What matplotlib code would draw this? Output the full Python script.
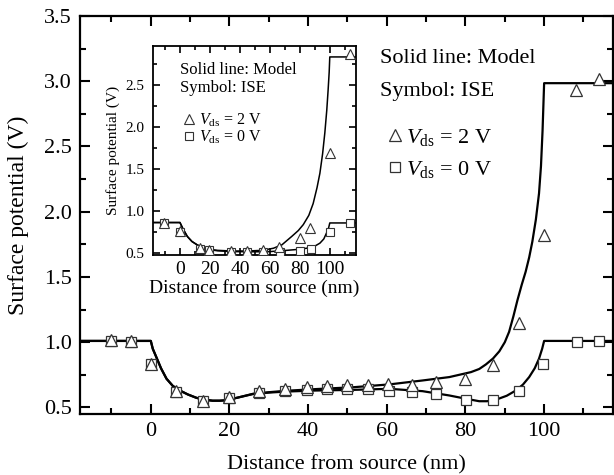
import matplotlib
matplotlib.use('Agg')
import matplotlib.pyplot as plt
from matplotlib.ticker import MultipleLocator, FormatStrFormatter
from matplotlib.lines import Line2D

plt.rcParams['font.family'] = ['Liberation Serif', 'DejaVu Serif']
plt.rcParams['mathtext.fontset'] = 'custom'
plt.rcParams['mathtext.rm'] = 'Liberation Serif'
plt.rcParams['mathtext.it'] = 'Liberation Serif:italic'

# ---- main panel: surface potential along the channel ----
# ISE simulation points
x_ise_2v = [-10, -5, 0, 6.5, 13.3, 20, 27.5, 34, 39.7, 44.8, 50, 55.2, 60.4, 66.4, 72.5, 80, 87, 93.7, 100, 108, 114]
v_ise_2v = [1.015, 1.01, 0.835, 0.625, 0.552, 0.58, 0.625, 0.643, 0.655, 0.661, 0.669, 0.674, 0.677, 0.672, 0.694, 0.715, 0.828, 1.147, 1.82, 2.93, 3.02]
x_ise_0v = [-10, -5, 0, 6.5, 13.3, 20, 27.5, 34, 39.7, 44.8, 50, 55.2, 60.6, 66.4, 72.5, 80.1, 87.1, 93.7, 99.8, 108.3, 114]
v_ise_0v = [1.01, 1.005, 0.83, 0.62, 0.548, 0.57, 0.61, 0.625, 0.635, 0.64, 0.64, 0.64, 0.63, 0.617, 0.60, 0.559, 0.554, 0.625, 0.835, 1.0, 1.007]

# model curves
x_mod_2v = [-18, 0, 0.5, 1.4, 2.6, 4, 5.6, 7.4, 9.4, 11.6, 13.6, 15.7, 17.5, 19, 22, 26, 30, 34.4, 42, 51.4, 60.7, 69.1, 75.9,
            81.4, 83.5, 85.2, 87, 88.6, 90, 91.1, 92.2, 93.2, 94.3, 95.3, 96.2, 97, 97.9, 98.7, 99.2, 99.6, 100, 117.5]
v_mod_2v = [1.01, 1.01, 0.95, 0.886, 0.8, 0.72, 0.665, 0.63, 0.6, 0.574, 0.56, 0.552, 0.552, 0.555, 0.575, 0.605, 0.617, 0.628, 0.641, 0.655, 0.677, 0.707, 0.733,
            0.771, 0.795, 0.83, 0.875, 0.93, 1.0, 1.08, 1.2, 1.32, 1.44, 1.54, 1.65, 1.77, 1.94, 2.14, 2.35, 2.62, 2.985, 2.985]
x_mod_0v = [-18, 0, 0.5, 1.4, 2.6, 4, 5.6, 7.4, 9.4, 11.6, 13.6, 15.7, 17.5, 19, 22, 26, 30, 34.4, 42, 51.4, 60.7, 69.1, 75.9,
            80.1, 83.5, 85.5, 87.7, 90.5, 92.8, 94.6, 96.2, 97.6, 98.7, 99.5, 100, 117.5]
v_mod_0v = [1.01, 1.01, 0.95, 0.886, 0.8, 0.72, 0.665, 0.63, 0.6, 0.574, 0.56, 0.552, 0.552, 0.555, 0.575, 0.603, 0.614, 0.622, 0.63, 0.635, 0.643, 0.625, 0.592,
            0.567, 0.548, 0.548, 0.559, 0.59, 0.63, 0.675, 0.733, 0.8, 0.874, 0.95, 1.01, 1.01]

# ---- inset ----
x_in_ise_2v = [-10.5, 0, 13.3, 19.7, 34.1, 44.7, 55.3, 66.4, 80, 86.7, 100, 113.7]
v_in_ise_2v = [0.865, 0.76, 0.56, 0.54, 0.527, 0.527, 0.54, 0.58, 0.68, 0.80, 1.69, 2.87]
x_in_ise_0v = [-10.5, 0, 13.3, 19.7, 34.1, 44.7, 55.3, 66.8, 80, 87.2, 100, 113.7]
v_in_ise_0v = [0.86, 0.755, 0.555, 0.535, 0.52, 0.515, 0.515, 0.52, 0.53, 0.55, 0.757, 0.856]

x_in_mod_2v = [-18, 0, 2, 4.9, 8, 11.5, 15, 18, 25, 35, 45, 55, 62.4, 68, 74.6, 79, 82.3, 86, 88.9, 91.5, 93.4, 95.2,
               96.7, 98, 98.9, 99.6, 100, 117.5]
v_in_mod_2v = [0.865, 0.865, 0.79, 0.70, 0.64, 0.60, 0.57, 0.55, 0.535, 0.527, 0.527, 0.535, 0.56, 0.6, 0.70, 0.77, 0.84, 0.95, 1.09, 1.28, 1.45, 1.68,
               1.93, 2.2, 2.44, 2.65, 2.83, 2.83]
x_in_mod_0v = [-18, 0, 2, 4.9, 8, 11.5, 15, 18, 25, 35, 51.3, 60, 71.3, 80, 84.5, 90, 93.4, 96, 97.8, 99.2, 100, 117.5]
v_in_mod_0v = [0.865, 0.865, 0.79, 0.70, 0.64, 0.60, 0.57, 0.548, 0.53, 0.52, 0.518, 0.52, 0.535, 0.548, 0.56, 0.585, 0.62, 0.67, 0.74, 0.8, 0.86, 0.86]

fig = plt.figure(figsize=(6.14, 4.75), dpi=100)
ax = fig.add_axes([0.1303, 0.1284, 0.868, 0.838])

ax.plot(x_mod_2v, v_mod_2v, color='black', lw=1.6, zorder=2)
ax.plot(x_mod_0v, v_mod_0v, color='black', lw=1.6, zorder=2)
ax.plot(x_ise_0v, v_ise_0v, ls='none', marker='s', ms=7.5, mfc='white', mec='#333333', mew=0.9, zorder=3)
ax.plot(x_ise_2v, v_ise_2v, ls='none', marker='^', ms=8.5, mfc='white', mec='#333333', mew=0.9, zorder=4)

ax.set_xlim(-18, 117.5)
ax.set_ylim(0.45, 3.5)
ax.xaxis.set_major_locator(MultipleLocator(20))
ax.xaxis.set_minor_locator(MultipleLocator(10))
ax.yaxis.set_major_locator(MultipleLocator(0.5))
ax.yaxis.set_minor_locator(MultipleLocator(0.25))
ax.yaxis.set_major_formatter(FormatStrFormatter('%.1f'))
ax.tick_params(which='both', direction='in', top=True, right=True, width=1.5, labelsize=16)
ax.tick_params(which='major', length=7, pad=6)
ax.tick_params(which='minor', length=4)
for s in ax.spines.values():
    s.set_linewidth(1.6)
ax.set_xlabel('Distance from source (nm)', fontsize=16, labelpad=10)
ax.set_ylabel('Surface potential (V)', fontsize=17, labelpad=11)

ax.text(0.563, 0.894, 'Solid line: Model', transform=ax.transAxes, fontsize=16, va='center')
ax.text(0.563, 0.809, 'Symbol: ISE', transform=ax.transAxes, fontsize=16, va='center')
handles = [Line2D([], [], ls='none', marker='^', ms=8, mfc='white', mec='#333333', mew=0.9),
           Line2D([], [], ls='none', marker='s', ms=7, mfc='white', mec='#333333', mew=0.9)]
ax.legend(handles, [r'$V_{\rm ds}$ = 2 V', r'$V_{\rm ds}$ = 0 V'], loc='upper left',
          bbox_to_anchor=(0.56, 0.75), frameon=False, fontsize=16,
          handlelength=0.5, handletextpad=0.25, labelspacing=0.5, borderpad=0)

# inset axes
axi = fig.add_axes([0.2492, 0.4632, 0.3306, 0.44])
axi.plot(x_in_mod_2v, v_in_mod_2v, color='black', lw=1.1, zorder=2)
axi.plot(x_in_mod_0v, v_in_mod_0v, color='black', lw=1.1, zorder=2)
axi.plot(x_in_ise_0v, v_in_ise_0v, ls='none', marker='s', ms=6, mfc='white', mec='#333333', mew=0.8, zorder=3)
axi.plot(x_in_ise_2v, v_in_ise_2v, ls='none', marker='^', ms=7, mfc='white', mec='#333333', mew=0.8, zorder=4)
axi.set_xlim(-18, 117.5)
axi.set_ylim(0.48, 2.96)
axi.xaxis.set_major_locator(MultipleLocator(20))
axi.xaxis.set_minor_locator(MultipleLocator(10))
axi.yaxis.set_major_locator(MultipleLocator(0.5))
axi.yaxis.set_minor_locator(MultipleLocator(0.25))
axi.yaxis.set_major_formatter(FormatStrFormatter('%.1f'))
axi.tick_params(which='both', direction='in', top=True, right=True, width=1.2)
axi.tick_params(which='major', length=5)
axi.tick_params(which='minor', length=3)
axi.tick_params(axis='x', labelsize=14, pad=4)
axi.tick_params(axis='y', labelsize=11, pad=6)
for s in axi.spines.values():
    s.set_linewidth(1.3)
axi.set_xlabel('Distance from source (nm)', fontsize=14, labelpad=1)
axi.set_ylabel('Surface potential (V)', fontsize=11, labelpad=4)

axi.text(0.133, 0.885, 'Solid line: Model', transform=axi.transAxes, fontsize=12, va='center')
axi.text(0.133, 0.799, 'Symbol: ISE', transform=axi.transAxes, fontsize=12, va='center')
handles_in = [Line2D([], [], ls='none', marker='^', ms=6.5, mfc='white', mec='#333333', mew=0.8),
              Line2D([], [], ls='none', marker='s', ms=5.5, mfc='white', mec='#333333', mew=0.8)]
axi.legend(handles_in, [r'$V_{\rm ds}$ = 2 V', r'$V_{\rm ds}$ = 0 V'], loc='upper left',
           bbox_to_anchor=(0.115, 0.725), frameon=False, fontsize=11.5,
           handlelength=0.6, handletextpad=0.3, labelspacing=0.0, borderpad=0)

fig.savefig('out.png', dpi=100)
